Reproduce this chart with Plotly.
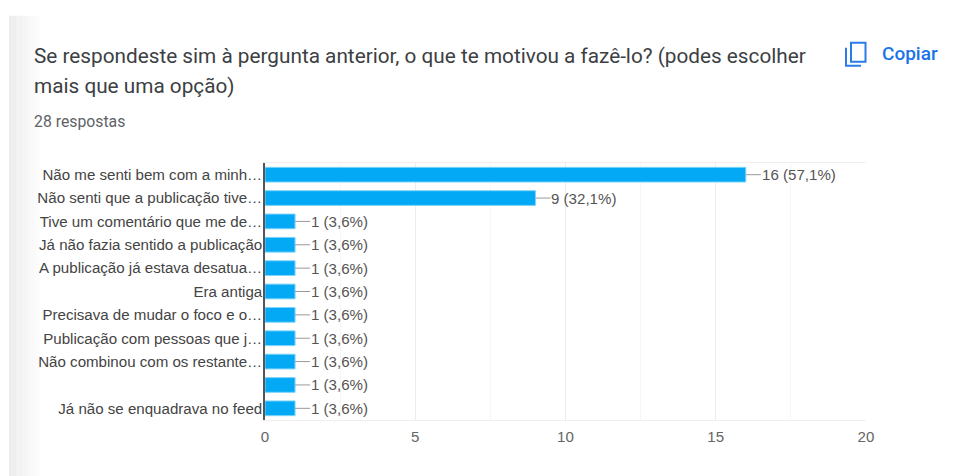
import plotly.graph_objects as go

W, H = 954, 476
categories = [
    "Não me senti bem com a minh…",
    "Não senti que a publicação tive…",
    "Tive um comentário que me de…",
    "Já não fazia sentido a publicação",
    "A publicação já estava desatua…",
    "Era antiga",
    "Precisava de mudar o foco e o…",
    "Publicação com pessoas que j…",
    "Não combinou com os restante…",
    "",
    "Já não se enquadrava no feed",
]
values = [16, 9, 1, 1, 1, 1, 1, 1, 1, 1, 1]
percent_labels = ["57,1%", "32,1%"] + ["3,6%"] * 9
positions = list(range(len(categories)))

BAR = "#03a9f4"
TICK_FONT = "Liberation Sans"
UI_FONT = "Roboto"
LABEL_SIZE = 15.1

# the page has an 8 px body margin, so the figure is sized and placed to compensate
PAGE = 8
LEFT, RIGHT, TOP, BOTTOM = 265, 866, 162.5, 420


def px(x):
    return (x - LEFT) / (RIGHT - LEFT)


def py(y):
    return (BOTTOM - y) / (BOTTOM - TOP)


fig = go.Figure(go.Bar(
    x=values, y=positions, orientation="h",
    marker=dict(color=BAR, line=dict(color="#7fd4f9", width=1)),
    hoverinfo="skip",
))

annotations = []
for v, p, pct in zip(values, positions, percent_labels):
    annotations.append(dict(
        x=v, y=p, xref="x", yref="y", text=f"{v} ({pct})",
        showarrow=True, arrowhead=0, arrowwidth=1, arrowcolor="#999999",
        ax=15, ay=0, axref="pixel", ayref="pixel", standoff=0,
        xanchor="left", yanchor="middle", borderpad=0,
        font=dict(family=TICK_FONT, size=LABEL_SIZE, color="#555555"),
    ))

for text, x, y, size, color, weight in [
    ("Se respondeste sim à pergunta anterior, o que te motivou a fazê-lo? (podes escolher", 32.5, 55, 20.75, "#3c4043", 400),
    ("mais que uma opção)", 32.5, 85, 20.75, "#3c4043", 400),
    ("28 respostas", 32.5, 121, 15.8, "#5f6368", 400),
    ("Copiar", 880.5, 53, 19, "#1a73e8", 500),
]:
    annotations.append(dict(
        x=px(x), y=py(y), xref="paper", yref="paper", text=text, showarrow=False,
        xanchor="left", yanchor="middle", borderpad=0,
        font=dict(family=UI_FONT, size=size, color=color, weight=weight),
    ))

shapes = []
# soft grey page edge on the left of the card
strip_count = 14
for i in range(strip_count):
    shade = 236 + int(19 * (i / (strip_count - 1)))
    shapes.append(dict(
        type="rect", xref="paper", yref="paper", layer="below",
        x0=px(9 + i * 2.4), x1=px(9 + (i + 1) * 2.4), y0=py(476), y1=py(15),
        fillcolor=f"rgb({shade},{shade},{shade})", line=dict(width=0),
    ))
# copy icon
ICON = "#2a7de9"
shapes.append(dict(
    type="rect", xref="paper", yref="paper",
    x0=px(851), x1=px(865.5), y0=py(61), y1=py(42),
    line=dict(color=ICON, width=2), fillcolor="rgba(0,0,0,0)",
))
shapes.append(dict(
    type="path", xref="paper", yref="paper",
    path=f"M {px(846)} {py(47)} L {px(846)} {py(65)} L {px(861)} {py(65)}",
    line=dict(color=ICON, width=2),
))

fig.update_layout(
    width=W - PAGE, height=H - PAGE, autosize=False,
    margin=dict(l=LEFT - PAGE, r=W - RIGHT, t=TOP - PAGE, b=H - BOTTOM),
    paper_bgcolor="white", plot_bgcolor="white",
    bargap=0.37, showlegend=False,
    annotations=annotations, shapes=shapes,
    xaxis=dict(
        range=[0, 20], tickvals=[0, 5, 10, 15, 20], ticks="",
        showgrid=True, gridcolor="#ececec", gridwidth=1,
        minor=dict(dtick=2.5, showgrid=True, gridcolor="#f6f6f6", gridwidth=1),
        zeroline=False, showline=True, mirror=True, linecolor="#efefef", linewidth=1,
        ticklabelstandoff=3,
        tickfont=dict(family=TICK_FONT, size=LABEL_SIZE, color="#666666"),
    ),
    yaxis=dict(
        range=[len(categories) - 0.5, -0.5],
        tickmode="array", tickvals=positions, ticktext=categories, ticks="",
        showgrid=False, zeroline=False, showline=True, linecolor="#555555", linewidth=1.5,
        ticklabelstandoff=-2,
        tickfont=dict(family=TICK_FONT, size=LABEL_SIZE, color="#444444"),
    ),
)

fig.write_html("out.html")
